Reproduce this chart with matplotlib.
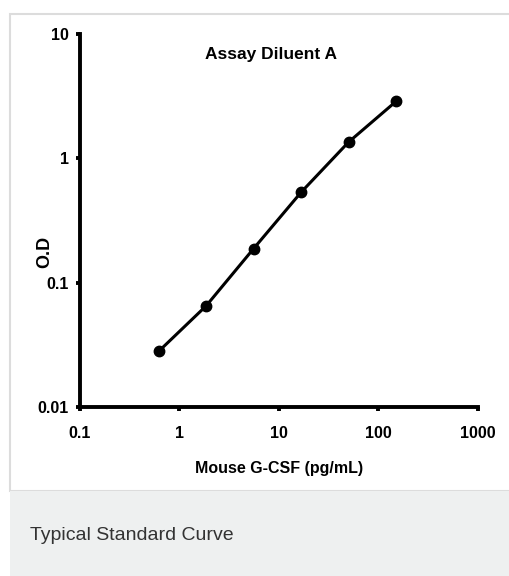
import matplotlib.pyplot as plt
from matplotlib.patches import Rectangle
from matplotlib.ticker import FixedLocator, FixedFormatter, NullLocator

# standard curve data
conc = [0.617, 1.85, 5.56, 16.7, 50, 150]
od = [0.028, 0.065, 0.188, 0.534, 1.35, 2.87]
xticks = [0.1, 1, 10, 100, 1000]
xtick_labels = ['0.1', '1', '10', '100', '1000']
yticks = [0.01, 0.1, 1, 10]
ytick_labels = ['0.01', '0.1', '1', '10']

W, H = 510, 576
fig = plt.figure(figsize=(W / 100, H / 100), dpi=100)
fig.patch.set_facecolor('white')

narrow = ['Liberation Sans Narrow', 'Liberation Sans', 'DejaVu Sans']

# panel frame and caption band
fig.patches.append(Rectangle((10 / W, (H - 491) / H), 1.1, (491 - 14) / H,
                             transform=fig.transFigure, facecolor='white',
                             edgecolor='#dcdcdc', linewidth=1.5, zorder=0))
fig.patches.append(Rectangle((10 / W, 0), 1.1, (H - 491) / H,
                             transform=fig.transFigure, facecolor='#eef0f0',
                             edgecolor='none', zorder=0))
fig.text(30 / W, (H - 535) / H, 'Typical Standard Curve', fontsize=14,
         color='#333333', family=['Liberation Sans', 'DejaVu Sans'],
         va='center', ha='left')

ax = fig.add_axes([80 / W, (H - 407) / H, (478 - 80) / W, (407 - 34) / H])
ax.set_zorder(5)
ax.set_facecolor('none')
ax.plot(conc, od, color='black', linewidth=2.2, marker='o', markersize=7.5,
        clip_on=False)
ax.set_xscale('log')
ax.set_yscale('log')
ax.set_xlim(0.1, 1000)
ax.set_ylim(0.01, 10)

ax.xaxis.set_major_locator(FixedLocator(xticks))
ax.xaxis.set_major_formatter(FixedFormatter(xtick_labels))
ax.yaxis.set_major_locator(FixedLocator(yticks))
ax.yaxis.set_major_formatter(FixedFormatter(ytick_labels))
ax.xaxis.set_minor_locator(NullLocator())
ax.yaxis.set_minor_locator(NullLocator())

for s in ['top', 'right']:
    ax.spines[s].set_visible(False)
for s in ['left', 'bottom']:
    ax.spines[s].set_linewidth(2.8)
ax.tick_params(axis='both', length=3, width=2.8, direction='out')
ax.tick_params(axis='x', pad=11)
ax.tick_params(axis='y', pad=5)
for lab in ax.get_xticklabels() + ax.get_yticklabels():
    lab.set_family(narrow)
    lab.set_fontweight('bold')
    lab.set_fontsize(11.5)

ax.set_xlabel('Mouse G-CSF (pg/mL)', family=narrow, fontweight='bold',
              fontsize=11.5, labelpad=14)
ax.set_ylabel('O.D', family=narrow, fontweight='bold', fontsize=13)
ax.yaxis.set_label_coords(-0.068, 0.416)
ax.text(0.48, 0.945, 'Assay Diluent A', transform=ax.transAxes, ha='center',
        va='center', family=narrow, fontweight='bold', fontsize=12.5)

fig.savefig('out.png', dpi=100)
